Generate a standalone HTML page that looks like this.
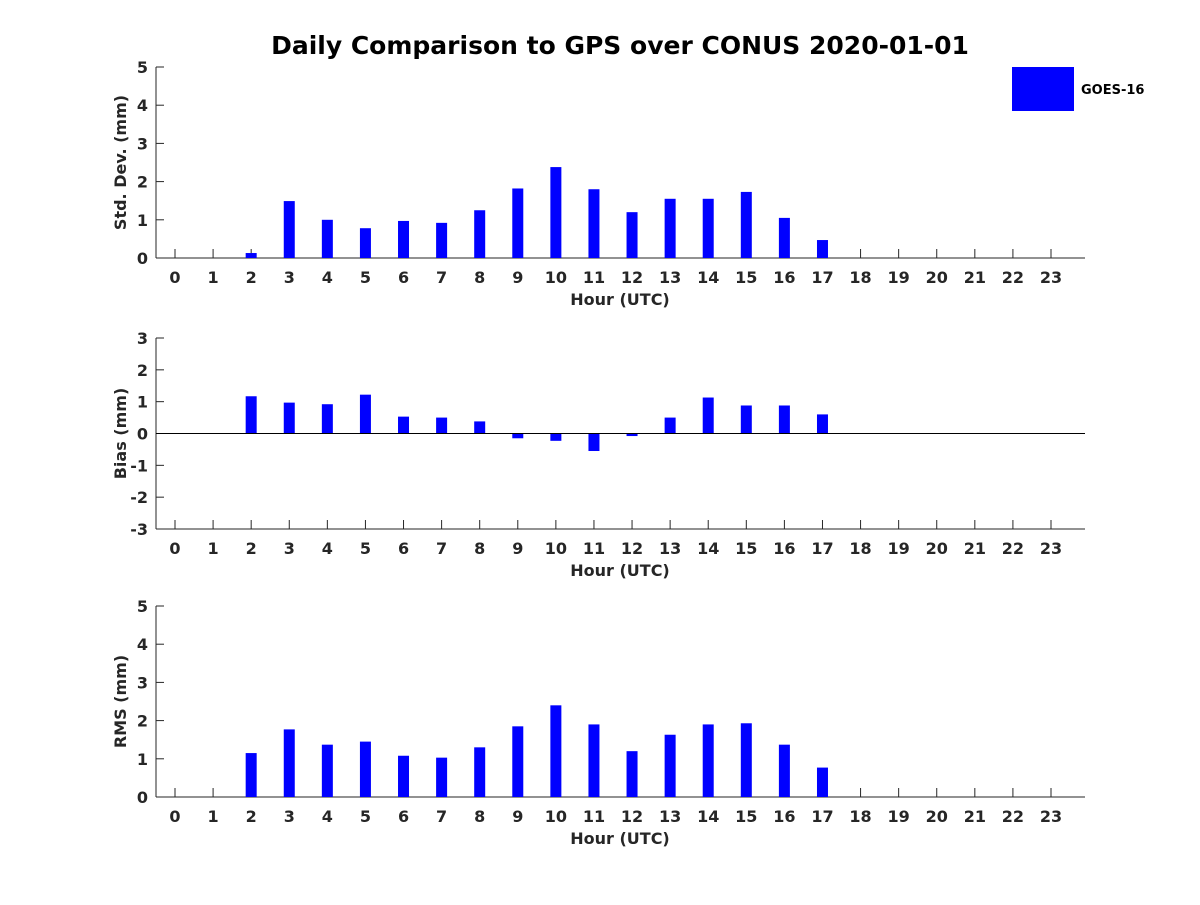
<!DOCTYPE html>
<html><head><meta charset="utf-8"><style>
body{margin:0;background:#fff;}
svg text{font-family:"DejaVu Sans","Liberation Sans",sans-serif;font-weight:bold;fill:#262626;}
</style></head><body>
<svg id="chart" width="1200" height="900" xmlns="http://www.w3.org/2000/svg">
<rect width="1200" height="900" fill="#fff"/>
<text x="620" y="54" font-size="25" text-anchor="middle" style="fill:#000">Daily Comparison to GPS over CONUS 2020-01-01</text>
<rect x="1012" y="67" width="62" height="44" fill="#0000ff"/>
<text x="1081" y="94" font-size="13" style="fill:#000">GOES-16</text>
<g id="plots"></g>
</svg>
<script>
const hours = [0,1,2,3,4,5,6,7,8,9,10,11,12,13,14,15,16,17,18,19,20,21,22,23];
const stdValues = [null,null,0.13,1.49,1.0,0.78,0.97,0.92,1.25,1.82,2.38,1.8,1.2,1.55,1.55,1.73,1.05,0.47,null,null,null,null,null,null];
const biasValues = [null,null,1.17,0.97,0.92,1.22,0.53,0.5,0.38,-0.15,-0.23,-0.55,-0.08,0.5,1.13,0.88,0.88,0.6,null,null,null,null,null,null];
const rmsValues = [null,null,1.15,1.77,1.37,1.45,1.08,1.03,1.3,1.85,2.4,1.9,1.2,1.63,1.9,1.93,1.37,0.77,null,null,null,null,null,null];
const stdTicks = [0,1,2,3,4,5];
const biasTicks = [-3,-2,-1,0,1,2,3];
const rmsTicks = [0,1,2,3,4,5];

const NS = "http://www.w3.org/2000/svg";
const g = document.getElementById('plots');
function mk(tag, attrs, parent){const e=document.createElementNS(NS,tag);for(const k in attrs)e.setAttribute(k,attrs[k]);(parent||g).appendChild(e);return e;}
const x0=156, x1=1085;
function xScale(h){return 175 + h*(1051-175)/23;}

function panel(name, values, ticks, top, bottom, ylabel){
  const ymin=ticks[0], ymax=ticks[ticks.length-1];
  const y=v=>bottom-(v-ymin)/(ymax-ymin)*(bottom-top);
  const grp=mk('g',{});
  
  
  mk('line',{x1:x0,y1:top,x2:x0,y2:bottom,stroke:'#262626','stroke-width':1},grp);
  mk('line',{x1:x0,y1:bottom,x2:x1,y2:bottom,stroke:'#262626','stroke-width':1},grp);
  ticks.forEach(t=>{
    mk('line',{x1:x0,y1:y(t),x2:x0+8,y2:y(t),stroke:'#262626'},grp);
    const tx=mk('text',{x:x0-8,y:y(t)+6,'font-size':16,'text-anchor':'end'},grp);
    tx.textContent=t;
    
    
  });
  hours.forEach(h=>{
    mk('line',{x1:xScale(h),y1:bottom,x2:xScale(h),y2:bottom-9,stroke:'#262626'},grp);
    const tx=mk('text',{x:xScale(h),y:bottom+25,'font-size':16,'text-anchor':'middle'},grp);
    tx.textContent=h;
    
    
  });
  values.forEach((v,i)=>{
    if(v===null)return;
    const base=ymin<0?y(0):bottom;
    const yt=y(v);
    const r=mk('rect',{x:xScale(hours[i])-5.5,y:Math.min(yt,base),width:11,height:Math.abs(base-yt),fill:'#0000ff'},grp);
    
    
  });
  if(ymin<0) mk('line',{x1:x0,y1:y(0),x2:x1,y2:y(0),stroke:'#000','stroke-width':1},grp);
  const xl=mk('text',{x:620,y:bottom+47,'font-size':16,'text-anchor':'middle'},grp);
  xl.textContent='Hour (UTC)';
  
  
  const cy=(top+bottom)/2;
  const yl=mk('text',{x:0,y:0,'font-size':16,'text-anchor':'middle',transform:`translate(126,${cy}) rotate(-90)`},grp);
  yl.textContent=ylabel;
  
  
}
panel('std', stdValues, stdTicks, 67, 258, 'Std. Dev. (mm)');
panel('bias', biasValues, biasTicks, 338, 529, 'Bias (mm)');
panel('rms', rmsValues, rmsTicks, 606, 797, 'RMS (mm)');
</script>
</body></html>
